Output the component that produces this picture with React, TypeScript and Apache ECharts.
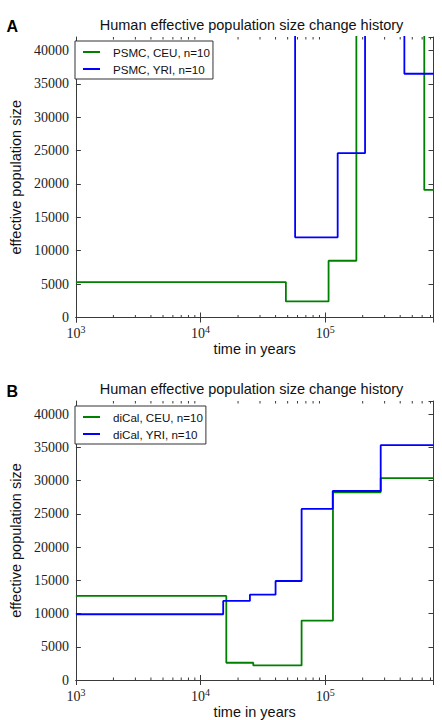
import React, { useEffect, useRef } from "react";
import * as echarts from "echarts";

// ---------- data ----------
const X_MIN = 1000;
const X_MAX = 740000;
const Y_MAX = 42000;
const yTicks = [0, 5000, 10000, 15000, 20000, 25000, 30000, 35000, 40000];
const xMajorTicks = [1000, 10000, 100000];
const xMinorTicks = [
  2000, 3000, 4000, 5000, 6000, 7000, 8000, 9000,
  20000, 30000, 40000, 50000, 60000, 70000, 80000, 90000,
  200000, 300000, 400000, 500000, 600000, 700000,
];

// panel A: PSMC (start time of each interval, Ne in that interval)
const psmcCeuTimes = [1000, 48400, 106500, 178000, 624000];
const psmcCeuNe = [5300, 2400, 8500, 60000, 19100];
const psmcYriTimes = [1000, 57400, 126000, 209000, 432000];
const psmcYriNe = [60000, 12000, 24600, 60000, 36500];

// panel B: diCal
const dicalCeuTimes = [1000, 16100, 26500, 64700, 115500, 279000];
const dicalCeuNe = [12650, 2600, 2200, 8950, 28250, 30400];
const dicalYriTimes = [1000, 15200, 24900, 40000, 64700, 115000, 279000];
const dicalYriNe = [9900, 11900, 12850, 14900, 25750, 28450, 35350];

const titleText = "Human effective population size change history";
const legendA = ["PSMC, CEU, n=10", "PSMC, YRI, n=10"];
const legendB = ["diCal, CEU, n=10", "diCal, YRI, n=10"];

const GREEN = "#008000";
const BLUE = "#0000ff";
const AXIS = "#3a3a3a";
const SANS = "'Liberation Sans', Arial, sans-serif";
const SERIF = "'Liberation Serif', 'DejaVu Serif', serif";

function stepPoints(times: number[], ne: number[]) {
  const pts = times.map((t, i) => [t, ne[i]]);
  pts.push([X_MAX, ne[ne.length - 1]]);
  return pts;
}

const GRIDS = [
  { left: 69, top: 37, width: 364.5, height: 280.5 },
  { left: 69, top: 401, width: 364.5, height: 281 },
];

function xAxes(gridIndex: number) {
  const common = {
    type: "log",
    logBase: 10,
    min: X_MIN,
    max: X_MAX,
    gridIndex,
    splitLine: { show: false },
    axisLine: { show: true, lineStyle: { color: AXIS, width: 1 } },
    axisTick: { show: true, inside: true, length: 5, lineStyle: { color: AXIS } },
  };
  return [
    {
      ...common,
      position: "bottom",
      name: "time in years",
      nameLocation: "middle",
      nameGap: 24,
      nameTextStyle: { fontFamily: SANS, fontSize: 14.5, color: "#111" },
      axisLabel: {
        show: true,
        margin: 7,
        showMaxLabel: false,
        formatter: (v: number) => {
          const e = Math.log10(v);
          if (Math.abs(e - Math.round(e)) > 1e-6) return "";
          if (!xMajorTicks.some((t) => Math.abs(t - v) < 1e-6 * t)) return "";
          return `{b|10}{s|${Math.round(e)}}`;
        },
        rich: {
          b: { fontFamily: SERIF, fontSize: 14, color: "#222", lineHeight: 16, verticalAlign: "bottom" },
          s: { fontFamily: SERIF, fontSize: 10, color: "#222", lineHeight: 9, verticalAlign: "top" },
        },
      },
    },
    {
      ...common,
      position: "top",
      axisLabel: { show: false },
    },
  ];
}

function yAxes(gridIndex: number) {
  const common = {
    type: "value",
    min: 0,
    max: Y_MAX,
    interval: 5000,
    gridIndex,
    splitLine: { show: false },
    axisLine: { show: true, lineStyle: { color: AXIS, width: 1 } },
    axisTick: { show: true, inside: true, length: 5, lineStyle: { color: AXIS } },
  };
  return [
    {
      ...common,
      position: "left",
      name: "effective population size",
      nameLocation: "middle",
      nameRotate: 90,
      nameGap: 50,
      nameTextStyle: { fontFamily: SANS, fontSize: 14.5, color: "#111" },
      axisLabel: {
        show: true,
        margin: 7,
        showMaxLabel: false,
        fontFamily: SERIF,
        fontSize: 14,
        color: "#222",
        formatter: (v: number) => (yTicks.includes(v) ? String(v) : ""),
      },
    },
    { ...common, position: "right", axisLabel: { show: false } },
  ];
}

function minorTickSeries(xAxisIndex: number, yAxisIndex: number) {
  return {
    type: "custom",
    xAxisIndex,
    yAxisIndex,
    silent: true,
    clip: false,
    data: xMinorTicks.map((v) => [v, 0]),
    renderItem: (params: any, api: any) => {
      const x = api.coord([api.value(0), 0])[0];
      const cs = params.coordSys;
      const style = { stroke: AXIS, lineWidth: 1 };
      return {
        type: "group",
        children: [
          { type: "line", shape: { x1: x, y1: cs.y + cs.height, x2: x, y2: cs.y + cs.height - 2.5 }, style },
          { type: "line", shape: { x1: x, y1: cs.y, x2: x, y2: cs.y + 2.5 }, style },
        ],
      };
    },
  };
}

function lineSeries(name: string, color: string, data: number[][], xAxisIndex: number, yAxisIndex: number) {
  return {
    type: "line",
    name,
    step: "end",
    data,
    xAxisIndex,
    yAxisIndex,
    color,
    symbol: "none",
    showSymbol: false,
    clip: true,
    lineStyle: { color, width: 1.8 },
  };
}

function legend(data: string[], left: number, top: number) {
  return {
    data,
    left,
    top,
    orient: "vertical",
    icon: "rect",
    itemWidth: 17,
    itemHeight: 2,
    itemGap: 3,
    padding: [4, 3, 3, 8],
    borderColor: "#333",
    borderWidth: 1,
    backgroundColor: "#fff",
    selectedMode: false,
    textStyle: { fontFamily: SANS, fontSize: 11.6, color: "#111", padding: [0, 0, 0, 8], lineHeight: 14 },
  };
}

export default function App() {
  const ref = useRef<HTMLDivElement>(null);
  useEffect(() => {
    document.body.style.margin = "0";
    if (!ref.current) return;
    const chart = echarts.init(ref.current, undefined, { renderer: "svg" });
    chart.setOption({
      animation: false,
      backgroundColor: "#fff",
      grid: GRIDS.map((g) => ({ ...g, containLabel: false })),
      xAxis: [...xAxes(0), ...xAxes(1)],
      yAxis: [...yAxes(0), ...yAxes(1)],
      legend: [legend(legendA, 75, 41), legend(legendB, 75, 406)],
      series: [
        lineSeries(legendA[0], GREEN, stepPoints(psmcCeuTimes, psmcCeuNe), 0, 0),
        lineSeries(legendA[1], BLUE, stepPoints(psmcYriTimes, psmcYriNe), 0, 0),
        lineSeries(legendB[0], GREEN, stepPoints(dicalCeuTimes, dicalCeuNe), 2, 2),
        lineSeries(legendB[1], BLUE, stepPoints(dicalYriTimes, dicalYriNe), 2, 2),
        minorTickSeries(0, 0),
        minorTickSeries(2, 2),
      ],
      graphic: [
        { type: "text", x: 6.5, y: 26.5, style: { text: "A", font: `bold 16px ${SANS}`, fill: "#000", textVerticalAlign: "middle" } },
        { type: "text", x: 6.5, y: 391, style: { text: "B", font: `bold 16px ${SANS}`, fill: "#000", textVerticalAlign: "middle" } },
        { type: "text", x: 251.5, y: 24.5, style: { text: titleText, font: `14.5px ${SANS}`, fill: "#111", textAlign: "center", textVerticalAlign: "middle" } },
        { type: "text", x: 251.5, y: 388.5, style: { text: titleText, font: `14.5px ${SANS}`, fill: "#111", textAlign: "center", textVerticalAlign: "middle" } },
      ],
    });
    return () => chart.dispose();
  }, []);
  return <div ref={ref} style={{ width: 442, height: 720 }} />;
}
